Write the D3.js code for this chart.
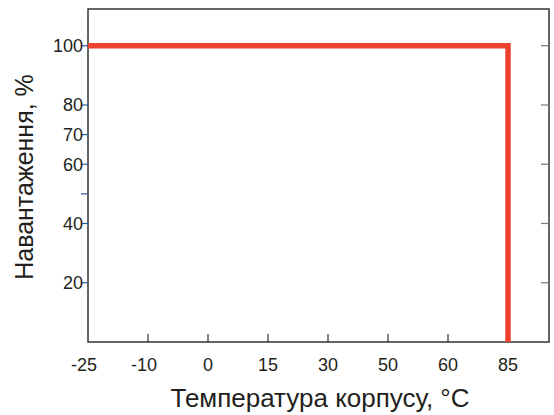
<!doctype html>
<html lang="uk">
<head>
<meta charset="utf-8">
<title>Навантаження</title>
<script src="https://cdn.jsdelivr.net/npm/d3@7"></script>
<style>
  body { margin: 0; background: #fff; }
  text { font-family: "Liberation Sans", Arial, sans-serif; fill: #231f20; }
</style>
</head>
<body>
<div id="chart"></div>
<script>
// data
var tempLabels = ["-25", "-10", "0", "15", "30", "50", "60", "85"];
var loadTicks = [20, 40, 50, 60, 70, 80, 100];
var loadLabels = {20: "20", 40: "40", 60: "60", 70: "70", 80: "80", 100: "100"};
var rightTicks = [20, 40, 60, 80, 100];
// derating curve: 100% up to 85 °C, then down to 0
var curveTemp = ["-25", "85", "85"];
var curveLoad = [100, 100, 0];

var W = 554, H = 415;
var pLeft = 88, pRight = 549, pTop = 9, pBottom = 342;

var svg = d3.select("#chart").append("svg").attr("width", W).attr("height", H);

var x = d3.scalePoint().domain(tempLabels).range([pLeft, 508]);
var y = d3.scaleLinear().domain([0, 112.4]).range([pBottom, pTop]);

// frame
svg.append("rect")
    .attr("x", pLeft).attr("y", pTop)
    .attr("width", pRight - pLeft).attr("height", pBottom - pTop)
    .attr("fill", "none").attr("stroke", "#333").attr("stroke-width", 1.5);

// left ticks (outside, blue)
svg.selectAll(".ytick").data(loadTicks).enter().append("line")
    .attr("x1", pLeft - 7).attr("x2", pLeft)
    .attr("y1", function(d) { return y(d); }).attr("y2", function(d) { return y(d); })
    .attr("stroke", "#2b5b9e").attr("stroke-width", 1.2);

svg.selectAll(".ylab").data(loadTicks.filter(function(d) { return loadLabels[d]; })).enter().append("text")
    .attr("x", pLeft - 5).attr("y", function(d) { return y(d); })
    .attr("dy", "0.36em").attr("text-anchor", "end")
    .attr("font-size", 18)
    .text(function(d) { return loadLabels[d]; });

// right ticks (inside, grey)
svg.selectAll(".rtick").data(rightTicks).enter().append("line")
    .attr("x1", pRight - 8).attr("x2", pRight)
    .attr("y1", function(d) { return y(d); }).attr("y2", function(d) { return y(d); })
    .attr("stroke", "#777").attr("stroke-width", 1.2);

// bottom ticks (inside)
svg.selectAll(".xtick").data(tempLabels.slice(1, 7)).enter().append("line")
    .attr("x1", function(d) { return x(d); }).attr("x2", function(d) { return x(d); })
    .attr("y1", pBottom - 8).attr("y2", pBottom)
    .attr("stroke", "#333").attr("stroke-width", 1.2);

svg.selectAll(".xlab").data(tempLabels).enter().append("text")
    .attr("x", function(d) { return x(d) - (d.charAt(0) == "-" ? 4 : 0); })
    .attr("y", 371)
    .attr("text-anchor", "middle")
    .attr("font-size", 18)
    .text(function(d) { return d; });

// the curve
var pts = curveTemp.map(function(t, i) { return [x(t), y(curveLoad[i])]; });
svg.append("path")
    .attr("d", d3.line()(pts))
    .attr("fill", "none")
    .attr("stroke", "#ef4130")
    .attr("stroke-width", 5.5)
    .attr("stroke-linejoin", "miter");

// axis titles
svg.append("text")
    .attr("x", 320).attr("y", 407)
    .attr("text-anchor", "middle")
    .attr("font-size", 26)
    .text("Температура корпусу, °С");

svg.append("text")
    .attr("transform", "translate(33,177) rotate(-90)")
    .attr("text-anchor", "middle")
    .attr("font-size", 25)
    .text("Навантаження, %");
</script>
</body>
</html>
